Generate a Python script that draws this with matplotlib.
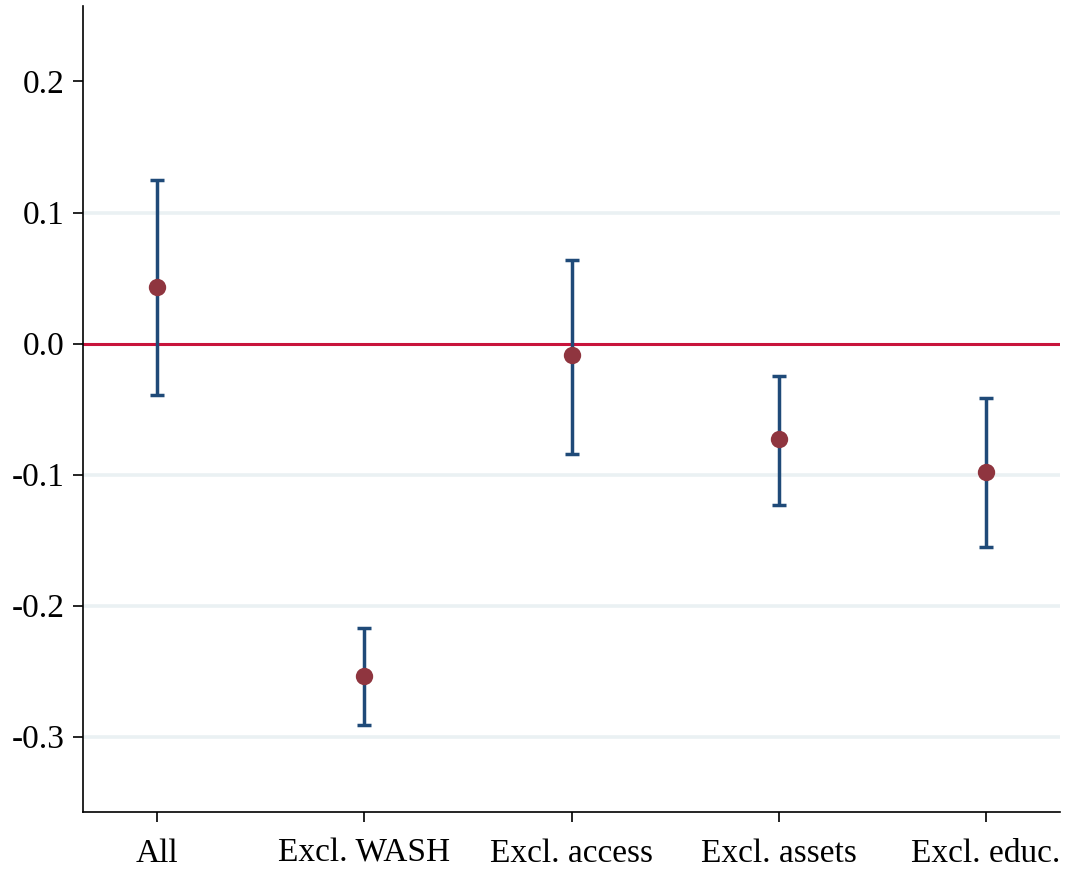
import matplotlib
matplotlib.use("Agg")
import matplotlib.pyplot as plt
import numpy as np

categories = ["All", "Excl. WASH", "Excl. access", "Excl. assets", "Excl. educ."]
estimates = [0.0434, -0.2538, -0.0091, -0.0732, -0.0983]
ci_upper = [0.125, -0.2172, 0.064, -0.0244, -0.0412]
ci_lower = [-0.0396, -0.291, -0.0846, -0.1235, -0.1555]
yticks = [-0.3, -0.2, -0.1, 0.0, 0.1, 0.2]
gridlines = [-0.3, -0.2, -0.1, 0.1]

plt.rcParams["font.family"] = ["Liberation Serif", "DejaVu Serif"]

fig = plt.figure(figsize=(10.73, 8.69), dpi=100)
ax = fig.add_axes([83 / 1073, 1 - 812 / 869, (1060 - 83) / 1073, (812 - 6) / 869])

x = np.arange(len(categories))
est = np.array(estimates)
lo = np.array(ci_lower)
hi = np.array(ci_upper)

for g in gridlines:
    ax.axhline(g, color="#eaf1f3", lw=2.6, zorder=0)
ax.axhline(0, color="#c8143c", lw=2.2, zorder=1)

ax.errorbar(x, est, yerr=[est - lo, hi - est], fmt="none", ecolor="#1f4a78",
            elinewidth=2.5, capsize=5, capthick=2.5, zorder=2)
ax.plot(x, est, "o", color="#8f353f", markersize=12.5, markeredgewidth=0, zorder=3)

ax.set_xlim(-0.357, 4.357)
ax.set_ylim(-0.3575, 0.2576)
ax.set_xticks(x)
ax.set_xticklabels(categories)
ax.set_yticks(yticks)
ax.set_yticklabels([f"{v:.1f}" for v in yticks])
ax.tick_params(axis="both", labelsize=24, length=7, width=1.2, color="#000000")
ax.tick_params(axis="x", pad=12)
ax.tick_params(axis="y", pad=6)

for side in ["top", "right"]:
    ax.spines[side].set_visible(False)
for side in ["left", "bottom"]:
    ax.spines[side].set_linewidth(1.2)

fig.savefig("out.png", dpi=100)
